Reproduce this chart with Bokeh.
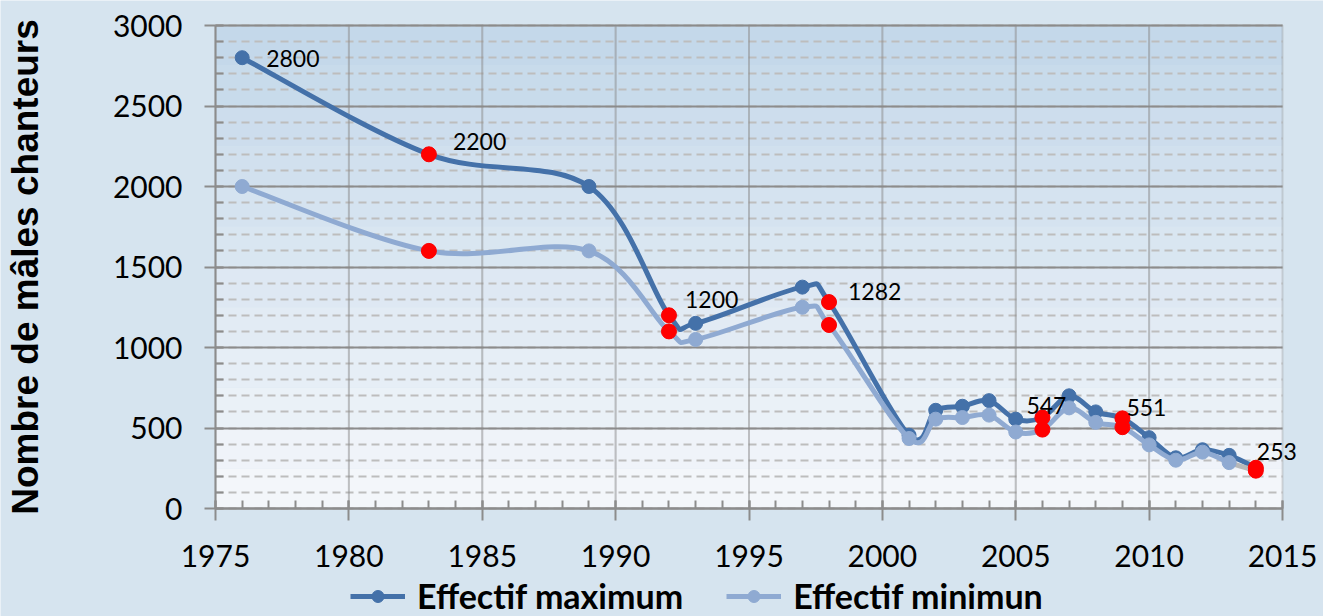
from bokeh.plotting import figure
from bokeh.models import (Range1d, SingleIntervalTicker, Legend, LegendItem,
                          ColumnDataSource, BoxAnnotation, LabelSet)
from bokeh.core.properties import value
from bokeh.embed import file_html
from bokeh.resources import INLINE

# ---- data ----
years = [1976, 1983, 1989, 1992, 1993, 1997, 1998, 2001, 2002, 2003, 2004,
         2005, 2006, 2007, 2008, 2009, 2010, 2011, 2012, 2013, 2014]
eff_max = [2800, 2200, 2000, 1200, 1150, 1375, 1282, 455, 610, 635, 670,
           555, 565, 700, 600, 560, 440, 315, 365, 330, 253]
eff_min = [2000, 1600, 1600, 1100, 1050, 1250, 1140, 435, 555, 565, 580,
           475, 490, 625, 535, 505, 395, 300, 350, 285, 235]
highlight_years = [1983, 1992, 1998, 2006, 2009, 2014]
label_years = [1976, 1983, 1992, 1998, 2006, 2009, 2014]
label_texts = ["2800", "2200", "1200", "1282", "547", "551", "253"]
series_names = ["Effectif maximum", "Effectif minimun"]
y_title = "Nombre de mâles chanteurs"
X0, X1, XSTEP = 1975, 2015, 5
Y0, Y1, YSTEP, YMINOR = 0, 3000, 500, 100

# ---- styles / geometry ----
C_MAX = "#4471A9"
C_MIN = "#8FAAD2"
C_RED = "#FF0000"
GRID = "#8C8C8C"
MINOR = "#BDBDBD"
OUTER = "#D6E4EF"
FONT = "Lato"
W, H = 1323, 616
AREA_L, AREA_R, AREA_T, AREA_B = 215, 1282, 25, 508   # plot area in pixels
label_dx = [24, 24, 16, 19, -16, 4, 1]
label_dy = [1, -13, -16, -11, -12, -11, -16]


def smooth_segments(xs, ys):
    """Bezier control points (Catmull-Rom style smoothing) for each segment."""
    n = len(xs)
    d = dict(x0=[], y0=[], x1=[], y1=[], cx0=[], cy0=[], cx1=[], cy1=[])
    for i in range(n - 1):
        xp, yp = (xs[i - 1], ys[i - 1]) if i > 0 else (xs[i], ys[i])
        xn, yn = (xs[i + 2], ys[i + 2]) if i + 2 < n else (xs[i + 1], ys[i + 1])
        d["x0"].append(xs[i]); d["y0"].append(ys[i])
        d["x1"].append(xs[i + 1]); d["y1"].append(ys[i + 1])
        d["cx0"].append(xs[i] + (xs[i + 1] - xp) / 6)
        d["cy0"].append(ys[i] + (ys[i + 1] - yp) / 6)
        d["cx1"].append(xs[i + 1] - (xn - xs[i]) / 6)
        d["cy1"].append(ys[i + 1] - (yn - ys[i]) / 6)
    return d


# the frame covers the whole canvas; the plot area sits at AREA_* pixels
xu = (X1 - X0) / (AREA_R - AREA_L)
yu = (Y1 - Y0) / (AREA_B - AREA_T)
x_start, x_end = X0 - AREA_L * xu, X1 + (W - AREA_R) * xu
y_start, y_end = Y0 - (H - AREA_B) * yu, Y1 + AREA_T * yu

p = figure(width=W, height=H,
           x_range=Range1d(x_start, x_end), y_range=Range1d(y_start, y_end),
           output_backend="svg", toolbar_location=None,
           min_border_left=0, min_border_right=0,
           min_border_top=0, min_border_bottom=0)

p.border_fill_color = OUTER
p.background_fill_color = OUTER
p.outline_line_color = None

# vertical gradient of the plot area
nb = 12
top_c = (196, 216, 234)
bot_c = (243, 246, 250)
for k in range(nb):
    t = k / (nb - 1)
    col = tuple(int(round(top_c[j] * (1 - t) + bot_c[j] * t)) for j in range(3))
    p.add_layout(BoxAnnotation(left=X0, right=X1,
                               top=Y1 - k * (Y1 - Y0) / nb, bottom=Y1 - (k + 1) * (Y1 - Y0) / nb,
                               fill_color="#%02x%02x%02x" % col, fill_alpha=1,
                               line_alpha=0, level="image"))

# axes / ticks
p.xaxis.ticker = SingleIntervalTicker(interval=XSTEP, num_minor_ticks=5)
p.yaxis.ticker = SingleIntervalTicker(interval=YSTEP, num_minor_ticks=5)
p.xaxis.fixed_location = Y0
p.yaxis.fixed_location = X0
p.xaxis.bounds = (X0, X1)
p.yaxis.bounds = (Y0, Y1)
for ax in (p.xaxis, p.yaxis):
    ax.axis_line_color = GRID
    ax.axis_line_width = 2
    ax.major_tick_line_color = GRID
    ax.major_tick_line_width = 2
    ax.minor_tick_line_color = GRID
    ax.minor_tick_line_width = 2
    ax.major_label_text_font = FONT
    ax.major_label_text_font_size = "30px"
    ax.major_label_text_color = "#000000"
p.xaxis.major_tick_out = 12
p.xaxis.major_tick_in = 8
p.xaxis.minor_tick_out = 0
p.xaxis.minor_tick_in = 8
p.xaxis.major_label_standoff = 24
p.yaxis.major_tick_out = 11
p.yaxis.major_tick_in = 0
p.yaxis.minor_tick_out = 0
p.yaxis.minor_tick_in = 8
p.yaxis.major_label_standoff = 22
p.yaxis.axis_label = y_title
p.yaxis.axis_label_text_font = "Liberation Sans"
p.yaxis.axis_label_text_font_style = "bold"
p.yaxis.axis_label_text_font_size = "37px"
p.yaxis.axis_label_text_color = "#000000"
p.yaxis.axis_label_standoff = 64

# grids: horizontal lines limited to the plot area, vertical lines from boxes
p.xgrid.visible = False
p.ygrid.grid_line_color = GRID
p.ygrid.grid_line_width = 2
p.ygrid.minor_grid_line_color = MINOR
p.ygrid.minor_grid_line_width = 2
p.ygrid.minor_grid_line_dash = "8 5"
try:
    p.ygrid.cross_bounds = (X0, X1)
    grid_ok = True
except Exception:
    grid_ok = False
if not grid_ok:
    p.ygrid.visible = False
    minor_ys = [v for v in range(Y0, Y1 + 1, YMINOR) if v % YSTEP != 0]
    major_ys = list(range(Y0, Y1 + 1, YSTEP))
    p.segment(x0=[X0] * len(minor_ys), x1=[X1] * len(minor_ys), y0=minor_ys, y1=minor_ys,
              line_color=MINOR, line_width=2, line_dash="8 5", level="underlay")
    p.segment(x0=[X0] * len(major_ys), x1=[X1] * len(major_ys), y0=major_ys, y1=major_ys,
              line_color=GRID, line_width=2, level="underlay")
for x in range(X0, X1, XSTEP):
    p.add_layout(BoxAnnotation(left=x, right=x + XSTEP, bottom=Y0, top=Y1,
                               fill_alpha=0, line_color=GRID, line_width=2,
                               level="underlay"))

# series
smax = smooth_segments(years, eff_max)
smin = smooth_segments(years, eff_min)
smin["color"] = [C_MIN] * (len(years) - 2) + ["#B8B8B8"]

r_max_line = p.bezier(x0="x0", y0="y0", x1="x1", y1="y1", cx0="cx0", cy0="cy0",
                      cx1="cx1", cy1="cy1", source=ColumnDataSource(smax),
                      line_color=C_MAX, line_width=5)
r_max_pts = p.scatter(years, eff_max, size=14, fill_color=C_MAX, line_color=C_MAX)
r_min_line = p.bezier(x0="x0", y0="y0", x1="x1", y1="y1", cx0="cx0", cy0="cy0",
                      cx1="cx1", cy1="cy1", source=ColumnDataSource(smin),
                      line_color="color", line_width=5)
r_min_pts = p.scatter(years, eff_min, size=14, fill_color=C_MIN, line_color=C_MIN)

hx = [y for y in years if y in highlight_years]
hmax = [v for y, v in zip(years, eff_max) if y in highlight_years]
hmin = [v for y, v in zip(years, eff_min) if y in highlight_years]
p.scatter(hx + hx, hmax + hmin, size=15, fill_color=C_RED, line_color=C_RED)

# data labels
ly = [eff_max[years.index(y)] for y in label_years]
lsrc = ColumnDataSource(dict(x=label_years, y=ly, text=label_texts,
                             dx=label_dx, dy=[-d for d in label_dy]))
p.add_layout(LabelSet(x="x", y="y", text="text", x_offset="dx", y_offset="dy",
                      source=lsrc, text_font=value(FONT), text_font_size="23px",
                      text_color="#000000", text_align="left",
                      text_baseline="middle"))

# legend (inside the lower part of the frame, below the x axis labels)
legend = Legend(items=[LegendItem(label=series_names[0], renderers=[r_max_line, r_max_pts]),
                       LegendItem(label=series_names[1], renderers=[r_min_line, r_min_pts])],
                orientation="horizontal", location=(350, 0),
                glyph_width=55, glyph_height=30, label_standoff=12, spacing=43,
                padding=0, margin=0, border_line_alpha=0, background_fill_alpha=0,
                label_text_font=FONT, label_text_font_style="bold",
                label_text_font_size="34px", label_text_color="#000000")
p.add_layout(legend, "center")

open("out.html", "w").write(file_html(p, INLINE))
